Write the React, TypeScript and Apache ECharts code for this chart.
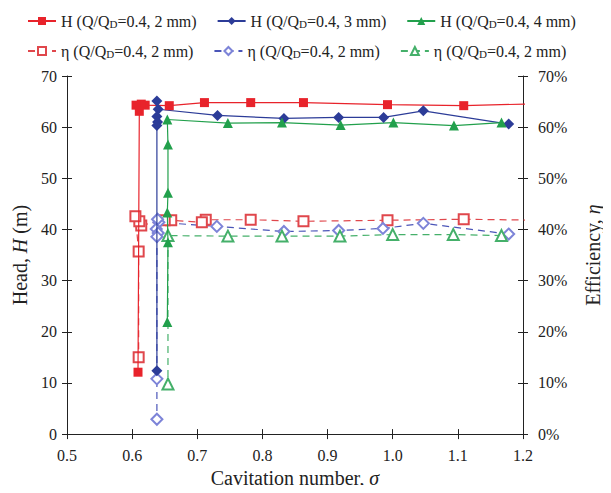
import { useEffect, useRef } from "react";
import * as echarts from "echarts";

// Cavitation test: head H (left axis, m) and efficiency η (right axis, %) vs cavitation number σ
const sigmaH2 = [1.23, 1.109, 0.992, 0.863, 0.782, 0.711, 0.657, 0.62, 0.614, 0.606, 0.611, 0.609];
const headH2 = [64.6, 64.2, 64.4, 64.8, 64.8, 64.8, 64.2, 64.3, 64.5, 64.3, 63.1, 12.1];

const sigmaH3 = [1.178, 1.047, 0.986, 0.917, 0.833, 0.731, 0.64, 0.638, 0.638, 0.639, 0.638, 0.638];
const headH3 = [60.6, 63.2, 61.9, 61.9, 61.7, 62.3, 63.5, 65.1, 62.1, 61.0, 60.3, 12.4];

const sigmaH4 = [1.167, 1.094, 1.001, 0.92, 0.83, 0.747, 0.654, 0.655, 0.655, 0.654, 0.655, 0.654];
const headH4 = [60.9, 60.3, 60.9, 60.4, 60.9, 60.8, 61.5, 56.6, 47.2, 43.3, 37.5, 21.9];

const sigmaE2 = [1.23, 1.109, 0.992, 0.863, 0.782, 0.713, 0.707, 0.66, 0.65, 0.614, 0.611, 0.605, 0.61, 0.61];
const effE2 = [41.8, 42.0, 41.8, 41.6, 41.9, 41.9, 41.4, 41.8, 41.8, 40.8, 41.6, 42.6, 35.7, 15.0];

const sigmaE3 = [1.178, 1.047, 0.985, 0.917, 0.833, 0.73, 0.641, 0.639, 0.637, 0.64, 0.638, 0.638, 0.638];
const effE3 = [39.1, 41.2, 40.2, 39.8, 39.6, 40.6, 41.4, 42.0, 40.1, 39.3, 38.6, 10.8, 2.9];

const sigmaE4 = [1.167, 1.093, 1.0, 0.919, 0.83, 0.747, 0.655, 0.655];
const effE4 = [38.8, 39.0, 39.0, 38.7, 38.7, 38.7, 38.8, 9.8];

const headLabels = [
  "H (Q/Q{sub|D}=0.4, 2 mm)",
  "H (Q/Q{sub|D}=0.4, 3 mm)",
  "H (Q/Q{sub|D}=0.4, 4 mm)",
];
const effLabels = [
  "η (Q/Q{sub|D}=0.4, 2 mm)",
  "η (Q/Q{sub|D}=0.4, 2 mm)",
  "η (Q/Q{sub|D}=0.4, 2 mm)",
];

const FONT = "'Liberation Serif', 'Times New Roman', serif";
const RED = "#E8232B";
const BLUE = "#2C3C98";
const GREEN = "#22A04C";
const RED_E = "#E0474C";
const BLUE_E = "#4A55B8";
const BLUE_E_MARK = "#7D84D8";
const GREEN_E = "#45B06A";

const zip = (xs: number[], ys: number[]) => xs.map((x, i) => [x, ys[i]]);

export default function App() {
  const ref = useRef<HTMLDivElement>(null);

  useEffect(() => {
    if (!ref.current) return;
    const chart = echarts.init(ref.current, undefined, { renderer: "svg" });

    const legendText = {
      fontFamily: FONT,
      fontSize: 16,
      color: "#222",
      rich: {
        sub: { fontFamily: FONT, fontSize: 11, color: "#222", verticalAlign: "bottom", lineHeight: 12 },
      },
    };
    const labelMap: Record<string, string> = {
      h2: headLabels[0],
      h3: headLabels[1],
      h4: headLabels[2],
      e2: effLabels[0],
      e3: effLabels[1],
      e4: effLabels[2],
    };

    const baseX = {
      type: "value",
      min: 0.5,
      max: 1.2,
      interval: 0.1,
      gridIndex: 0,
      position: "bottom",
      splitLine: { show: false },
    };
    const baseY = {
      type: "value",
      min: 0,
      max: 70,
      interval: 10,
      splitLine: { show: false },
    };
    const axisLine = { show: true, lineStyle: { color: "#222", width: 1 } };
    const labelStyle = { fontFamily: FONT, fontSize: 16, color: "#222" };
    const nameStyle = { fontFamily: FONT, fontSize: 20, color: "#222", rich: { i: { fontFamily: FONT, fontSize: 20, fontStyle: "italic", color: "#222" } } };

    const headSeries = (name: string, xs: number[], ys: number[], symbol: string, size: number, color: string) => ({
      name,
      type: "line",
      xAxisIndex: 0,
      yAxisIndex: 0,
      data: zip(xs, ys),
      symbol,
      symbolSize: size,
      showAllSymbol: true,
      itemStyle: { color },
      lineStyle: { color, width: 1.2 },
      z: 3,
    });
    const effSeries = (name: string, xs: number[], ys: number[], symbol: string, size: number, color: string, markColor: string) => ({
      name,
      type: "line",
      xAxisIndex: 0,
      yAxisIndex: 1,
      data: zip(xs, ys),
      symbol,
      symbolSize: size,
      showAllSymbol: true,
      itemStyle: { color: markColor, borderColor: markColor, borderWidth: 1.1 },
      lineStyle: { color, width: 1.2, type: [7, 5] },
      z: 2,
    });

    chart.setOption({
      animation: false,
      backgroundColor: "#fff",
      grid: { left: 67, right: 76, top: 76, bottom: 52, containLabel: false },
      legend: [
        {
          data: ["h2", "h3", "h4"],
          left: 22,
          top: 8,
          itemWidth: 28,
          itemHeight: 10,
          itemGap: 20,
          formatter: (n: string) => labelMap[n],
          textStyle: legendText,
          selectedMode: false,
        },
        {
          data: ["e2", "e3", "e4"],
          left: 22,
          top: 38,
          itemWidth: 28,
          itemHeight: 10,
          itemGap: 20,
          formatter: (n: string) => labelMap[n],
          textStyle: legendText,
          selectedMode: false,
        },
      ],
      xAxis: [
        {
          ...baseX,
          axisLine,
          axisTick: { show: true, inside: false, length: 5, lineStyle: { color: "#222" } },
          axisLabel: { ...labelStyle, margin: 13, formatter: (v: number) => v.toFixed(1) },
          name: "Cavitation number, {i|σ}",
          nameLocation: "middle",
          nameGap: 33,
          nameTextStyle: nameStyle,
        },
        {
          ...baseX,
          axisLine: { show: false },
          axisTick: { show: true, inside: true, length: 5, lineStyle: { color: "#222" } },
          axisLabel: { show: false },
        },
      ],
      yAxis: [
        {
          ...baseY,
          position: "left",
          axisLine,
          axisTick: { show: true, inside: false, length: 5, lineStyle: { color: "#222" } },
          axisLabel: { ...labelStyle, margin: 10 },
          name: "Head, {i|H} (m)",
          nameLocation: "middle",
          nameRotate: 90,
          nameGap: 35,
          nameTextStyle: nameStyle,
        },
        {
          ...baseY,
          position: "right",
          axisLine,
          axisTick: { show: true, inside: false, length: 5, lineStyle: { color: "#222" } },
          axisLabel: { ...labelStyle, margin: 15, formatter: (v: number) => `${v}%` },
          name: "Efficiency, {i|η}",
          nameLocation: "middle",
          nameRotate: 90,
          nameGap: 60,
          nameTextStyle: nameStyle,
        },
        {
          ...baseY,
          position: "left",
          axisLine: { show: false },
          axisTick: { show: true, inside: true, length: 5, lineStyle: { color: "#222" } },
          axisLabel: { show: false },
        },
        {
          ...baseY,
          position: "right",
          axisLine: { show: false },
          axisTick: { show: true, inside: true, length: 5, lineStyle: { color: "#222" } },
          axisLabel: { show: false },
        },
      ],
      series: [
        headSeries("h2", sigmaH2, headH2, "rect", 9, RED),
        headSeries("h3", sigmaH3, headH3, "diamond", 11, BLUE),
        headSeries("h4", sigmaH4, headH4, "triangle", 10, GREEN),
        effSeries("e2", sigmaE2, effE2, "emptyRect", 10, RED_E, RED_E),
        effSeries("e3", sigmaE3, effE3, "emptyDiamond", 11, BLUE_E, BLUE_E_MARK),
        effSeries("e4", sigmaE4, effE4, "emptyTriangle", 11, GREEN_E, GREEN_E),
      ],
    });

    return () => chart.dispose();
  }, []);

  return <div ref={ref} style={{ width: 611, height: 493, margin: -8 }} />;
}
